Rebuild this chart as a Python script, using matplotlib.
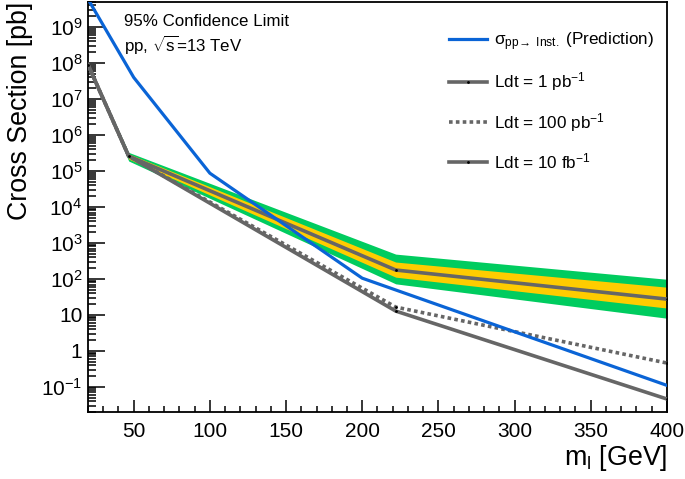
import matplotlib
matplotlib.use("Agg")
import matplotlib.pyplot as plt
from matplotlib.ticker import FixedLocator, LogLocator, NullFormatter, MultipleLocator
from matplotlib.lines import Line2D

plt.rcParams['font.family'] = ['Liberation Sans', 'DejaVu Sans']
plt.rcParams['mathtext.fontset'] = 'custom'
plt.rcParams['mathtext.rm'] = 'Liberation Sans'
plt.rcParams['mathtext.it'] = 'Liberation Sans:italic'
plt.rcParams['mathtext.bf'] = 'Liberation Sans:bold'

# ---- data ----
pred_mass = [20, 50, 100, 200, 400]
pred_xsec = [6e9, 4e7, 8.7e4, 1.05e2, 0.11]

lim_mass = [20, 46.7, 222, 400]
lim_1pb = [9e7, 2.6e5, 177, 27.5]
lim_1pb_1s_lo = [8.5e7, 2.15e5, 112, 15.5]
lim_1pb_1s_hi = [9.5e7, 3.0e5, 295, 59]
lim_1pb_2s_lo = [8.0e7, 1.9e5, 73, 8.1]
lim_1pb_2s_hi = [1.0e8, 3.3e5, 490, 98]
lim_100pb = [9e7, 2.6e5, 16.5, 0.46]
lim_10fb = [9e7, 2.6e5, 12.8, 0.046]

ytick_vals = [1e-1, 1, 10, 1e2, 1e3, 1e4, 1e5, 1e6, 1e7, 1e8, 1e9]
ytick_labels = [r'$10^{-1}$', '1', '10', r'$10^{2}$', r'$10^{3}$', r'$10^{4}$',
                r'$10^{5}$', r'$10^{6}$', r'$10^{7}$', r'$10^{8}$', r'$10^{9}$']

GREEN = '#00cc5f'
YELLOW = '#ffcc00'
GRAY = '#666666'
BLUE = '#0a64d6'

fig = plt.figure(figsize=(6.85, 4.79), dpi=100)
ax = fig.add_axes([0.1285, 0.1399, 0.845, 0.8559])

ax.fill_between(lim_mass, lim_1pb_2s_lo, lim_1pb_2s_hi, color=GREEN, lw=0, zorder=1)
ax.fill_between(lim_mass, lim_1pb_1s_lo, lim_1pb_1s_hi, color=YELLOW, lw=0, zorder=2)

mk = dict(marker='.', markersize=2, markerfacecolor='black', markeredgecolor='black')
ax.plot(lim_mass, lim_10fb, color=GRAY, lw=2.6, zorder=3, **mk)
ax.plot(lim_mass, lim_100pb, color=GRAY, lw=2.6, ls=(0, (1.0, 0.9)), zorder=3, **mk)
ax.plot(lim_mass, lim_1pb, color=GRAY, lw=2.6, zorder=4, **mk)
ax.plot(pred_mass, pred_xsec, color=BLUE, lw=2.3, zorder=5)

ax.set_yscale('log')
ax.set_xlim(20, 400)
ax.set_ylim(0.02, 5e9)

ax.yaxis.set_major_locator(FixedLocator(ytick_vals))
ax.set_yticklabels(ytick_labels)
ax.yaxis.set_minor_locator(LogLocator(base=10, subs=range(2, 10), numticks=100))
ax.yaxis.set_minor_formatter(NullFormatter())
ax.xaxis.set_major_locator(MultipleLocator(50))
ax.xaxis.set_minor_locator(MultipleLocator(10))

ax.tick_params(which='both', direction='in', top=False, right=False, width=1.1)
ax.tick_params(axis='y', which='major', length=12, labelsize=15, pad=4)
ax.tick_params(axis='y', which='minor', length=6)
ax.tick_params(axis='x', which='major', length=9, labelsize=15, pad=7)
ax.tick_params(axis='x', which='minor', length=4.5)
for s in ax.spines.values():
    s.set_linewidth(1.3)

ax.set_ylabel('Cross Section [pb]', fontsize=19.3, loc='top', labelpad=6)
ax.set_xlabel(r'm$_{\mathrm{l}}$ [GeV]', fontsize=19.3, loc='right', labelpad=2)

ax.text(0.062, 0.952, '95% Confidence Limit', transform=ax.transAxes, fontsize=12.2, va='center')
ax.text(0.062, 0.895, r'pp, $\sqrt{\mathrm{s}}$=13 TeV', transform=ax.transAxes, fontsize=12.2, va='center')

# legend handles
h_pred = Line2D([], [], color=BLUE, lw=2.3)
h1 = Line2D([], [], color=GRAY, lw=2.6, **mk)
h2 = Line2D([], [], color=GRAY, lw=2.6, ls=(0, (1.0, 0.9)))
h3 = Line2D([], [], color=GRAY, lw=2.6, **mk)
labels = [u'\u03c3$_{\\mathrm{pp}\\!\\rightarrow\\ \\mathrm{Inst.}}$ (Prediction)',
          r'Ldt = 1 pb$^{-1}$', r'Ldt = 100 pb$^{-1}$', r'Ldt = 10 fb$^{-1}$']
leg = ax.legend([h_pred, h1, h2, h3], labels, loc='upper right',
                bbox_to_anchor=(1.005, 0.968), frameon=False, fontsize=12.3,
                handlelength=2.2, handletextpad=0.45, labelspacing=1.02, markerscale=1)

fig.savefig('out.png', dpi=100)
